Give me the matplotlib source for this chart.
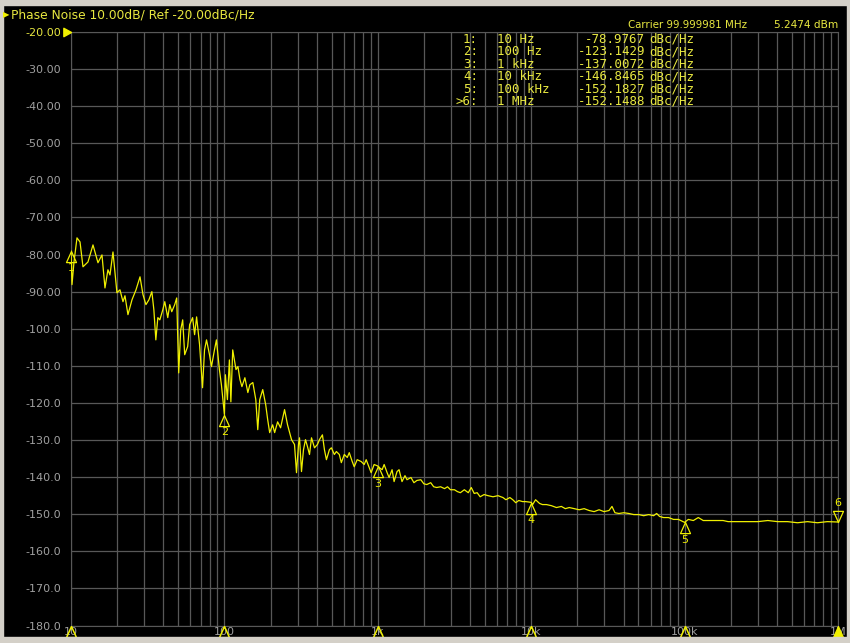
import matplotlib
matplotlib.use("Agg")
import matplotlib.pyplot as plt
from matplotlib.patches import Rectangle
from matplotlib.ticker import LogLocator, NullFormatter

# phase noise trace (offset in Hz, dBc/Hz)
freq_hz = [10, 10.15, 10.46, 10.94, 11.45, 11.97, 12.9, 13.91, 14.99, 15.92,
           16.65, 17.41, 17.95, 18.78, 19.93, 20.85, 21.82, 22.48, 23.51, 24.98,
           26.53, 28.18, 29.46, 30.8, 32.2, 33.66, 34.69, 35.73, 36.82, 37.94,
           39.66, 40.87, 42.73, 44.03, 45.37, 47.43, 48.87, 50.36, 51.89, 53.47,
           55.1, 57.61, 59.36, 62.06, 63.94, 65.89, 68.89, 72.02, 74.21, 76.47,
           79.95, 82.38, 86.12, 88.74, 92.78, 95.6, 100, 101.5, 104.6, 107.8,
           110.2, 113.3, 119, 122.5, 126.3, 130.1, 136, 142.2, 146.5, 153.2,
           160.2, 165, 170, 177.8, 185.9, 191.5, 197.3, 206.3, 212.6, 222.3,
           232.4, 246.7, 258, 273.9, 286.4, 295.1, 304.1, 308.7, 318.1, 327.8,
           337.8, 348.1, 358.7, 369.7, 386.6, 404.2, 416.5, 435.5, 448.8, 462.5,
           483.5, 498.3, 521, 536.9, 561.3, 578.4, 604.8, 632.3, 651.6, 681.2,
           702, 733.9, 779.7, 815.2, 840.1, 878.3, 905.1, 946.3, 1000, 1020,
           1067, 1100, 1150, 1185, 1239, 1277, 1335, 1376, 1438, 1504,
           1550, 1645, 1720, 1798, 1908, 1995, 2086, 2213, 2314, 2419,
           2567, 2724, 2848, 2978, 3160, 3303, 3454, 3665, 3889, 4066,
           4251, 4444, 4647, 4931, 5232, 5637, 6073, 6543, 6840, 7258,
           7588, 7933, 8294, 8801, 9201, 10000, 10220, 10680, 11340, 11850,
           12580, 13550, 14600, 15730, 16690, 17710, 19080, 20560, 22150, 23860,
           25710, 27700, 29840, 32150, 33620, 35150, 37300, 40180, 43290, 46640,
           50250, 54140, 58330, 62840, 65700, 68690, 72890, 78530, 84600, 91150,
           100000, 105800, 114000, 122800, 132300, 142600, 153600, 165500, 178300, 192100,
           222900, 258700, 300300, 348600, 404600, 469600, 545000, 632600, 734200, 852200,
           1000000]
noise_dbc = [-79.0, -88.1, -82.0, -75.5, -76.6, -83.3, -82.0, -77.4, -82.2, -80.1,
             -89.0, -84.1, -85.5, -79.3, -90.3, -89.5, -92.7, -91.1, -96.2, -92.2,
             -89.5, -86.0, -90.8, -93.5, -92.2, -90.0, -94.9, -103.0, -97.0, -97.6,
             -94.9, -92.7, -97.0, -93.5, -95.4, -93.5, -91.7, -111.9, -100.3, -97.6,
             -107.0, -104.8, -98.9, -97.0, -101.6, -96.8, -104.3, -115.9, -105.7, -103.0,
             -107.0, -110.2, -105.7, -103.0, -111.0, -115.1, -123.1, -112.4, -119.1, -108.4,
             -119.7, -105.7, -111.0, -110.2, -113.7, -115.6, -113.2, -117.2, -115.1, -114.5,
             -119.1, -127.2, -119.1, -116.4, -120.5, -124.5, -128.0, -125.9, -128.0, -125.1,
             -126.7, -121.8, -125.9, -129.9, -131.2, -138.8, -131.2, -129.4, -138.5, -132.6,
             -129.9, -131.8, -133.9, -129.4, -132.1, -131.2, -129.9, -128.6, -132.6, -135.3,
             -132.6, -132.1, -133.9, -133.1, -133.9, -136.1, -133.9, -134.7, -133.4, -135.8,
             -137.2, -135.3, -135.8, -136.6, -135.3, -137.4, -138.8, -136.6, -137.0, -137.4,
             -138.0, -136.6, -138.8, -140.1, -138.0, -141.2, -138.5, -138.0, -141.2, -139.6,
             -140.7, -140.1, -141.5, -140.9, -140.7, -141.8, -142.0, -141.5, -142.6, -142.8,
             -142.6, -143.1, -142.6, -143.4, -143.4, -143.9, -144.2, -143.4, -144.2, -142.8,
             -144.4, -144.2, -145.3, -144.7, -145.0, -145.3, -145.0, -145.5, -146.1, -145.5,
             -146.1, -146.9, -146.3, -146.6, -146.6, -146.8, -147.4, -146.1, -147.1, -147.4,
             -147.4, -147.7, -148.2, -147.9, -148.5, -148.2, -148.5, -148.8, -148.5, -149.0,
             -149.3, -148.8, -149.3, -149.0, -147.9, -149.6, -149.8, -149.6, -149.8, -150.1,
             -150.1, -150.4, -150.1, -150.4, -149.8, -150.6, -150.9, -150.9, -151.4, -151.4,
             -152.2, -151.4, -151.7, -150.9, -151.7, -151.7, -151.7, -151.7, -151.7, -152.0,
             -152.0, -152.0, -152.0, -151.7, -152.0, -152.0, -152.3, -152.0, -152.3, -152.0,
             -152.1]

marker_num = ["1", "2", "3", "4", "5", "6"]
marker_freq = [10, 100, 1e3, 1e4, 1e5, 1e6]
marker_val = [-78.9767, -123.1429, -137.0072, -146.8465, -152.1827, -152.1488]
marker_freq_txt = ["10 Hz", "100 Hz", "1 kHz", "10 kHz", "100 kHz", "1 MHz"]

ytick_vals = list(range(-20, -190, -10))
ytick_txt = ["-20.00", "-30.00", "-40.00", "-50.00", "-60.00", "-70.00", "-80.00",
             "-90.00", "-100.0", "-110.0", "-120.0", "-130.0", "-140.0", "-150.0",
             "-160.0", "-170.0", "-180.0"]
xtick_vals = [10, 100, 1e3, 1e4, 1e5, 1e6]
xtick_txt = ["10", "100", "1k", "10k", "100k", "1M"]

YEL = "#f0f000"
TXT_YEL = "#e8e840"
GRAY_TXT = "#a0a0a0"
GRID = "#585858"
FRAME = "#d4d0c8"

W, H = 850, 643
fig = plt.figure(figsize=(W / 100, H / 100), dpi=100, facecolor="black")

# window frame around the screen capture
fig.patches.append(Rectangle((0, 1 - 5 / H), 1, 5 / H, transform=fig.transFigure,
                             color=FRAME, zorder=0))
fig.patches.append(Rectangle((0, 0), 3 / W, 1, transform=fig.transFigure,
                             color=FRAME, zorder=0))
fig.patches.append(Rectangle((1 - 3 / W, 0), 3 / W, 1, transform=fig.transFigure,
                             color=FRAME, zorder=0))
fig.patches.append(Rectangle((0, 0), 1, 6 / H, transform=fig.transFigure,
                             color=FRAME, zorder=0))

ax = fig.add_axes([71 / W, 1 - 625.5 / H, (838 - 71) / W, (625.5 - 32) / H])
ax.set_facecolor("black")
ax.set_xscale("log")
ax.set_xlim(10, 1e6)
ax.set_ylim(-180, -20)

ax.set_xticks(xtick_vals, xtick_txt)
ax.xaxis.set_minor_locator(LogLocator(base=10, subs=range(2, 10)))
ax.xaxis.set_minor_formatter(NullFormatter())
ax.set_yticks(ytick_vals, ytick_txt)
ax.tick_params(axis="both", which="both", length=0, colors=GRAY_TXT, labelsize=8)
ax.tick_params(axis="y", pad=7)
ax.tick_params(axis="x", pad=1)
ax.get_yticklabels()[0].set_color(TXT_YEL)
ax.grid(True, which="both", color=GRID, linewidth=0.9)
for sp in ax.spines.values():
    sp.set_color(GRID)

ax.plot(freq_hz, noise_dbc, color=YEL, linewidth=0.9, zorder=3)

# markers: triangle tip sits on the trace, number underneath
tri_up = [(0, 0), (-0.45, -1), (0.45, -1), (0, 0)]
tri_dn = [(0, 0), (-0.45, 1), (0.45, 1), (0, 0)]
for num, f, v in zip(marker_num, marker_freq, marker_val):
    if num == "6":
        ax.plot(f, v, marker=tri_dn, markersize=16, markerfacecolor="none",
                markeredgecolor=YEL, markeredgewidth=0.9, clip_on=False, zorder=4)
        ax.annotate(num, (f, v), xytext=(0, 10), textcoords="offset points",
                    ha="center", va="bottom", color=YEL, fontsize=8,
                    annotation_clip=False)
    else:
        ax.plot(f, v, marker=tri_up, markersize=16, markerfacecolor="none",
                markeredgecolor=YEL, markeredgewidth=0.9, clip_on=False, zorder=4)
        ax.annotate(num, (f, v), xytext=(0, -9), textcoords="offset points",
                    ha="center", va="top", color=YEL, fontsize=8,
                    annotation_clip=False)

# marker indicators along the x axis, active marker filled
ax.plot(marker_freq[:-1], [-180] * 5, linestyle="none", marker=tri_up, markersize=16,
        markerfacecolor="none", markeredgecolor=YEL, markeredgewidth=1.1,
        clip_on=False, zorder=6)
ax.plot(marker_freq[-1:], [-180], linestyle="none", marker=tri_up, markersize=16,
        markerfacecolor=YEL, markeredgecolor=YEL, markeredgewidth=0.9,
        clip_on=False, zorder=6)

# reference level arrow next to -20.00
ax.plot(10, -20, marker=[(0, 0), (-1, 0.55), (-1, -0.55), (0, 0)], markersize=11,
        color=YEL, clip_on=False, zorder=5)

# header
fig.text(3 / W, 1 - 15 / H, "\u25B6", color=YEL, fontsize=6, va="center", ha="left")
fig.text(11 / W, 1 - 15 / H, "Phase Noise 10.00dB/ Ref -20.00dBc/Hz", color=TXT_YEL,
         fontsize=8.8, va="center", ha="left")
fig.text(747 / W, 1 - 25 / H, "Carrier 99.999981 MHz", color=TXT_YEL,
         fontsize=7.4, va="center", ha="right")
fig.text(838 / W, 1 - 25 / H, "5.2474 dBm", color=TXT_YEL,
         fontsize=7.6, va="center", ha="right")

# marker table
mono = dict(color=TXT_YEL, fontsize=9, family="DejaVu Sans Mono", va="center")
for i, (num, ft, v) in enumerate(zip(marker_num, marker_freq_txt, marker_val)):
    y = 1 - (39.5 + i * 12.4) / H
    lab = (">" if num == "6" else "") + num + ":"
    fig.text(478 / W, y, lab, ha="right", **mono)
    fig.text(497 / W, y, ft, ha="left", **mono)
    fig.text(645 / W, y, "%.4f" % v, ha="right", **mono)
    fig.text(649 / W, y, "dBc/Hz", ha="left", **mono)

fig.savefig("out.png", dpi=100, facecolor="black")
